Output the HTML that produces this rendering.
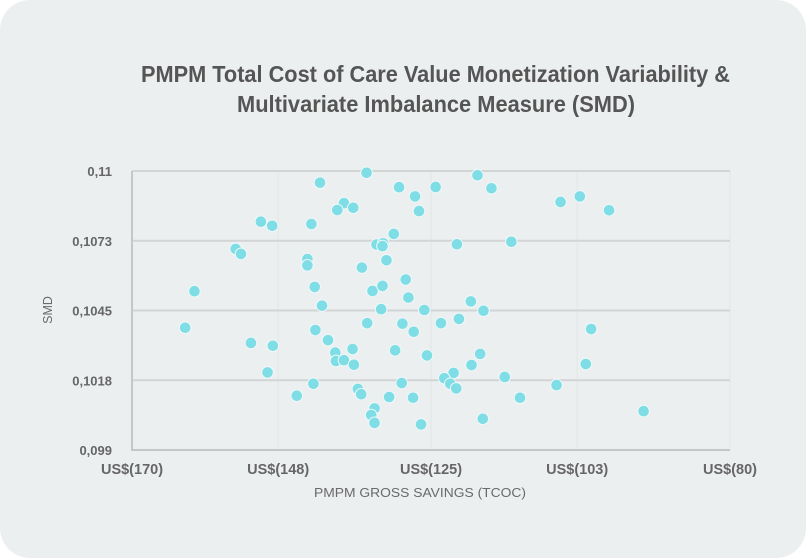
<!DOCTYPE html>
<html><head><meta charset="utf-8"><style>
html,body{margin:0;padding:0;background:#fff;}
#card{position:absolute;left:0;top:0;width:806px;height:558px;background:#eceff0;border-radius:30px;overflow:hidden;font-family:"Liberation Sans",sans-serif;}
svg{position:absolute;left:0;top:0;}
</style></head><body>
<div id="card">
<svg id="chart" width="806" height="558">
<text x="435.5" y="82" text-anchor="middle" font-size="23" font-weight="bold" fill="#555" textLength="589" lengthAdjust="spacingAndGlyphs">PMPM Total Cost of Care Value Monetization Variability &amp;</text>
<text x="436" y="112" text-anchor="middle" font-size="23" font-weight="bold" fill="#555" textLength="398" lengthAdjust="spacingAndGlyphs">Multivariate Imbalance Measure (SMD)</text>
<text x="420" y="497" text-anchor="middle" font-size="12.5" fill="#6a6a6a" textLength="212" lengthAdjust="spacingAndGlyphs">PMPM GROSS SAVINGS (TCOC)</text>
<text transform="translate(52,310) rotate(-90)" text-anchor="middle" font-size="12.5" fill="#6a6a6a">SMD</text>
</svg>
</div>
<script>
const xTicks=[-170,-148,-125,-103,-80];
const xTickLabels=["US$(170)","US$(148)","US$(125)","US$(103)","US$(80)"];
const yTicks=[0.099,0.10175,0.1045,0.10725,0.11];
const yTickLabels=["0,099","0,1018","0,1045","0,1073","0,11"];
const xValues=[-134.7,-141.7,-129.8,-127.4,-138.1,-139.1,-136.7,-126.8,-150.6,-148.9,-143.0,-130.6,-133.2,-132.2,-132.3,-154.4,-153.6,-143.6,-143.6,-131.7,-135.4,-128.8,-142.5,-133.8,-132.3,-160.6,-128.4,-141.4,-132.5,-126.0,-162.0,-142.4,-134.6,-129.3,-127.6,-152.1,-148.8,-140.5,-136.8,-139.4,-130.4,-125.6,-139.3,-138.1,-136.6,-149.6,-142.7,-129.4,-136.0,-135.5,-145.2,-131.3,-127.7,-133.5,-134.0,-133.5,-126.5,-118.0,-124.3,-115.9,-105.5,-102.6,-98.2,-121.1,-112.9,-119.0,-117.1,-123.5,-120.8,-100.9,-117.6,-118.9,-101.7,-121.6,-123.0,-122.1,-121.2,-113.9,-106.1,-111.6,-93.0,-117.2];
const yValues=[0.10993,0.10954,0.10936,0.10900,0.10873,0.10846,0.10855,0.10842,0.10800,0.10784,0.10791,0.10752,0.10710,0.10715,0.10704,0.10693,0.10673,0.10653,0.10628,0.10648,0.10619,0.10572,0.10543,0.10527,0.10547,0.10526,0.10501,0.10469,0.10455,0.10452,0.10382,0.10373,0.10400,0.10398,0.10366,0.10322,0.10311,0.10333,0.10298,0.10284,0.10293,0.10273,0.10251,0.10254,0.10236,0.10206,0.10161,0.10164,0.10141,0.10120,0.10114,0.10109,0.10106,0.10064,0.10038,0.10007,0.10001,0.10983,0.10937,0.10932,0.10878,0.10900,0.10845,0.10711,0.10721,0.10486,0.10449,0.10400,0.10417,0.10377,0.10279,0.10235,0.10239,0.10204,0.10183,0.10161,0.10143,0.10188,0.10156,0.10106,0.10053,0.10023];
const NS="http://www.w3.org/2000/svg";
const svg=document.getElementById('chart');
const X0=132,X1=730,Y0=450,Y1=171;
function xs(v){return X0+(v-(-170))/90*(X1-X0);}
function ys(v){return Y0-(v-0.099)/0.011*(Y0-Y1);}
function mk(t,a){const e=document.createElementNS(NS,t);for(const k in a)e.setAttribute(k,a[k]);svg.appendChild(e);return e;}
xTicks.forEach((t,i)=>{
  if(i>0){const g=mk('line',{x1:xs(t),x2:xs(t),y1:Y1,y2:Y0,stroke:'#e2e5e6','stroke-width':1});
  
  }
  const l=mk('text',{x:xs(t),y:Y0+24,'text-anchor':'middle','font-size':14.5,'font-weight':'bold',fill:'#666'});
  l.textContent=xTickLabels[i];
  
  
});
yTicks.forEach((t,i)=>{
  if(i>0){const g=mk('line',{x1:X0,x2:X1,y1:ys(t),y2:ys(t),stroke:'#d2d4d5','stroke-width':2});
  
  }
  const l=mk('text',{x:112,y:ys(t)+5,'text-anchor':'end','font-size':13,'font-weight':'bold',fill:'#666'});
  l.textContent=yTickLabels[i];
  
  
});
const ax=mk('path',{d:`M${X0},${Y1} V${Y0} H${X1}`,fill:'none',stroke:'#c4c6c7','stroke-width':2});


xValues.forEach((v,i)=>{
  const c=mk('circle',{cx:xs(v),cy:ys(yValues[i]),r:5.8,fill:'#7fdde5',stroke:'#eef8f9','stroke-width':1});
  
  
});
</script>
</body></html>
